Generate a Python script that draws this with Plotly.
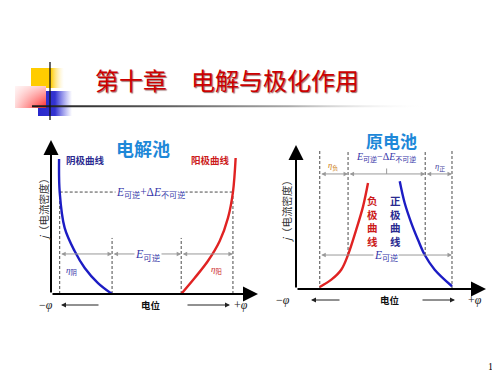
import plotly.graph_objects as go

# ---------------- data ----------------
# 电解池 (left): potential φ (0-10) vs current density j (0-10)
ec_cathode_phi = [0.39, 0.42, 0.66, 1.14, 1.63, 2.27, 2.95]
ec_cathode_j = [8.77, 6.62, 4.29, 2.79, 1.69, 0.71, 0.0]
ec_anode_phi = [6.29, 6.94, 7.58, 8.15, 8.55, 8.79, 8.92]
ec_anode_j = [0.0, 1.04, 2.14, 3.44, 4.94, 6.62, 8.83]
ec_j_work = 6.62      # level of E可逆+ΔE不可逆
ec_j_eq = 3.64        # top of equilibrium-potential verticals
ec_j_arrow = 2.6      # level of the E可逆 arrows

# 原电池 (right)
gc_neg_phi = [1.25, 1.86, 2.38, 2.74, 3.17, 3.53, 3.79]
gc_neg_j = [0.14, 0.65, 1.34, 2.38, 4.12, 5.74, 7.36]
gc_pos_phi = [5.46, 5.72, 6.07, 6.42, 6.77, 7.30, 8.21]
gc_pos_j = [7.48, 5.97, 4.58, 3.42, 2.38, 1.34, 0.19]
gc_marks_phi = [1.25, 2.74, 6.80, 8.21]
gc_j_top = 9.65
gc_j_arrow_top = 7.99
gc_j_arrow_low = 2.36

W, H = 500, 375


def P(px, py):
    return px / W, 1 - py / H


fig = go.Figure()

# ---------------- decoration (pixel axes x3/y3) ----------------
def rect(x0, x1, y0, y1, cs, gtype="horizontal"):
    fig.add_trace(go.Scatter(
        x=[x0, x1, x1, x0, x0], y=[y0, y0, y1, y1, y0], fill="toself",
        mode="none", fillgradient=dict(type=gtype, colorscale=cs),
        xaxis="x3", yaxis="y3", hoverinfo="skip", showlegend=False))


rect(23, 56, 60, 80, [[0, "#FFCC00"], [0.6, "#FFCC00"], [1, "rgba(255,235,170,0)"]])
rect(30, 64, 83, 108, [[0, "#2828CC"], [0.5, "#3333D0"], [1, "rgba(90,90,230,0)"]])
rect(7, 38, 78, 100, [[0, "#FFD8D8"], [1, "#FF2A2A"]])
rect(7, 38, 78, 100, [[0, "rgba(255,255,255,0)"], [1, "rgba(255,255,255,0.75)"]], "vertical")
rect(24, 420, 97.2, 99.2, [[0, "#1a1a1a"], [0.3, "#555555"], [0.65, "#aaaaaa"], [1, "rgba(255,255,255,0)"]])
fig.add_trace(go.Scatter(x=[42, 42], y=[54, 112], mode="lines",
                         line=dict(color="#111111", width=1.3),
                         xaxis="x3", yaxis="y3", hoverinfo="skip", showlegend=False))

DASH = dict(color="#4a4a4a", width=1, dash="3px,2px")


def dline(xs, ys, ax):
    fig.add_trace(go.Scatter(x=xs, y=ys, mode="lines", line=DASH,
                             xaxis=ax[0], yaxis=ax[1], hoverinfo="skip",
                             showlegend=False, cliponaxis=False))


# ---------------- left: 电解池 ----------------
L = ("x", "y")
ph_c_work = ec_cathode_phi[1]
ph_c_eq = ec_cathode_phi[-1]
ph_a_eq = ec_anode_phi[0]
ph_a_work = ec_anode_phi[5]
dline([ph_c_work, ph_a_work], [ec_j_work, ec_j_work], L)
dline([ph_c_work, ph_c_work], [0, ec_j_work], L)
dline([ph_a_work, ph_a_work], [0, ec_j_work], L)
dline([ph_c_eq, ph_c_eq], [0, ec_j_eq], L)
dline([ph_a_eq, ph_a_eq], [0, ec_j_eq], L)

fig.add_trace(go.Scatter(x=ec_cathode_phi, y=ec_cathode_j, mode="lines",
                         line=dict(color="#1c1cc4", width=2.4, shape="spline"),
                         xaxis="x", yaxis="y", showlegend=False))
fig.add_trace(go.Scatter(x=ec_anode_phi, y=ec_anode_j, mode="lines",
                         line=dict(color="#e02222", width=2.4, shape="spline"),
                         xaxis="x", yaxis="y", showlegend=False))

# ---------------- right: 原电池 ----------------
R = ("x2", "y2")
dline([gc_marks_phi[0]] * 2, [0, gc_j_top], R)
dline([gc_marks_phi[1]] * 2, [gc_j_arrow_low, gc_j_top], R)
dline([gc_marks_phi[2]] * 2, [gc_j_arrow_low, gc_j_top], R)
dline([gc_marks_phi[3]] * 2, [0, gc_j_top], R)
mid = (gc_marks_phi[1] + gc_marks_phi[2]) / 2
fig.add_trace(go.Scatter(x=[mid, mid], y=[gc_j_arrow_top, gc_j_arrow_top + 0.38],
                         mode="lines", line=dict(color="#999999", width=1),
                         xaxis="x2", yaxis="y2", showlegend=False))

fig.add_trace(go.Scatter(x=gc_neg_phi, y=gc_neg_j, mode="lines",
                         line=dict(color="#e02222", width=2.4, shape="spline"),
                         xaxis="x2", yaxis="y2", showlegend=False))
fig.add_trace(go.Scatter(x=gc_pos_phi, y=gc_pos_j, mode="lines",
                         line=dict(color="#1c1cc4", width=2.4, shape="spline"),
                         xaxis="x2", yaxis="y2", showlegend=False))

ann = []


def arrow(x0, y0, x1, y1, xr, yr, color="#999999", w=1, size=0.9, head=2, side="end+start"):
    ann.append(dict(x=x1, y=y1, ax=x0, ay=y0, xref=xr, yref=yr, axref=xr, ayref=yr,
                    text="", showarrow=True, arrowhead=head, arrowsize=size,
                    arrowwidth=w, arrowcolor=color, arrowside=side,
                    startarrowhead=head, startarrowsize=size))


# axis arrows
for xr, yr in [("x", "y"), ("x2", "y2")]:
    arrow(0, 0, 0, 10, xr, yr, color="#000000", w=2, size=1.5, head=2, side="end")
    arrow(0, 0, 10, 0, xr, yr, color="#000000", w=2, size=1.5, head=2, side="end")

# grey dimension arrows left
arrow(ph_c_work, ec_j_arrow, ph_c_eq, ec_j_arrow, "x", "y")
arrow(ph_c_eq, ec_j_arrow, ph_a_eq, ec_j_arrow, "x", "y")
arrow(ph_a_eq, ec_j_arrow, ph_a_work, ec_j_arrow, "x", "y")
# grey dimension arrows right
arrow(gc_marks_phi[0], gc_j_arrow_top, gc_marks_phi[1], gc_j_arrow_top, "x2", "y2")
arrow(gc_marks_phi[1], gc_j_arrow_top, gc_marks_phi[2], gc_j_arrow_top, "x2", "y2")
arrow(gc_marks_phi[2], gc_j_arrow_top, gc_marks_phi[3], gc_j_arrow_top, "x2", "y2")
arrow(gc_marks_phi[0], gc_j_arrow_low, gc_marks_phi[3], gc_j_arrow_low, "x2", "y2")


def parrow(px0, py, px1):
    # pixel-space arrow on the full-page helper axes
    ann.append(dict(x=px1, y=py, ax=px0, ay=py, xref="x3", yref="y3",
                    axref="x3", ayref="y3", text="", showarrow=True,
                    arrowhead=2, arrowsize=1, arrowwidth=1, arrowcolor="#222222"))


parrow(92, 297, 53)
parrow(178, 297, 222)
parrow(333, 292, 303)
parrow(413, 292, 447)

CJK = "Noto Sans CJK SC"
SERIF = "Liberation Serif, Noto Sans CJK SC"


def label(px, py, text, size, color, family=CJK, bg=None, angle=0, weight="normal", **kw):
    x, y = P(px, py)
    d = dict(x=x, y=y, xref="paper", yref="paper", text=text, showarrow=False,
             xanchor="center", yanchor="middle", textangle=angle,
             font=dict(size=size, color=color, family=family, weight=weight, **kw))
    if bg:
        d["bgcolor"] = bg
        d["borderpad"] = 0
    ann.append(d)


# slide title
label(219, 71, "第十章　电解与极化作用", 24, "#CC0000", shadow="1px 1px 1px #9a6a6a")
label(482, 358, "1", 10, "#000000", family="Liberation Serif")

# left texts
label(135, 140, "电解池", 18, "#1e88d8", weight="bold")
label(77, 152, "阴极曲线", 9.5, "#2a2a90", weight="bold")
label(202, 152, "阳极曲线", 9.5, "#cc1a1a", weight="bold")
label(142.5, 185, "<i>E</i><sub>可逆</sub>+Δ<i>E</i><sub>不可逆</sub>", 11.5, "#3535a8", SERIF, bg="white")
label(140, 247, "<i>E</i><sub>可逆</sub>", 12, "#3535a8", SERIF, bg="white")
label(63, 263, "<i>η</i><sub>阴</sub>", 9, "#3535a8", SERIF)
label(208, 262, "<i>η</i><sub>阳</sub>", 9, "#cc2a2a", SERIF)
label(36, 199, "<i>j</i>（电流密度）", 10.5, "#333333", angle=-90)
label(38, 297, "−<i>φ</i>", 12, "#222222", SERIF)
label(143, 297, "电位", 9.5, "#111111", weight="bold")
label(233, 297, "+<i>φ</i>", 12, "#222222", SERIF)

# right texts
label(383, 132, "原电池", 17, "#1e88d8", weight="bold")
label(378, 149.5, "<i>E</i><sub>可逆</sub>−Δ<i>E</i><sub>不可逆</sub>", 10, "#3535a8", SERIF)
label(325, 158, "<i>η</i><sub>负</sub>", 8.5, "#cc7a10", SERIF)
label(432, 158, "<i>η</i><sub>正</sub>", 8.5, "#4545a0", SERIF)
label(364, 213, "负<br>极<br>曲<br>线", 10.5, "#cc1a1a", weight="bold")
label(387, 213, "正<br>极<br>曲<br>线", 10.5, "#2a2a90", weight="bold")
label(378, 248, "<i>E</i><sub>可逆</sub>", 11.5, "#3535a8", SERIF, bg="white")
label(278, 201, "<i>j</i>（电流密度）", 10.5, "#333333", angle=-90)
label(275, 292, "−<i>φ</i>", 12, "#222222", SERIF)
label(382, 292, "电位", 9.5, "#111111", weight="bold")
label(467, 292, "+<i>φ</i>", 12, "#222222", SERIF)

hidden = dict(visible=False, fixedrange=True)
fig.update_layout(
    width=W, height=H, margin=dict(l=0, r=0, t=0, b=0),
    paper_bgcolor="white", plot_bgcolor="rgba(0,0,0,0)", showlegend=False,
    xaxis=dict(domain=[43 / W, 250 / W], range=[0, 10], **hidden),
    yaxis=dict(domain=[1 - 286 / H, 1 - 132 / H], range=[0, 10], **hidden),
    xaxis2=dict(domain=[288 / W, 478 / W], range=[0, 10], **hidden),
    yaxis2=dict(domain=[1 - 281 / H, 1 - 137 / H], range=[0, 10], **hidden),
    xaxis3=dict(domain=[0, 1], range=[0, W], **hidden),
    yaxis3=dict(domain=[0, 1], range=[H, 0], **hidden),
    annotations=ann,
)

fig.write_html("out.html")
